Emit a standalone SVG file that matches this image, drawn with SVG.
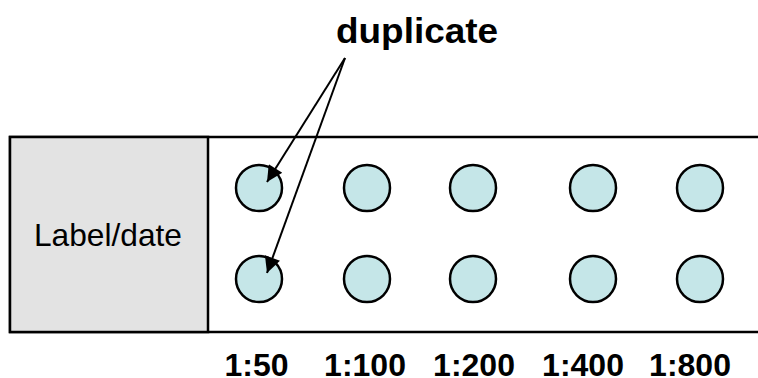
<svg xmlns="http://www.w3.org/2000/svg" width="758" height="378" viewBox="0 0 758 378">
<style>
.c{fill:#c5e6e8;stroke:#000;stroke-width:2.5}
.b{font-family:"Liberation Sans",Arial,sans-serif;font-weight:bold;fill:#000}
.s{font-size:32px}
.conn{stroke:#000;stroke-width:2;fill:none;marker-end:url(#ah)}
</style>
<defs>
<marker id="ah" viewBox="0 0 10 10" refX="10" refY="5" markerWidth="10" markerHeight="8" markerUnits="strokeWidth" orient="auto">
<path d="M0,0 L10,5 L0,10 z" fill="#000"/>
</marker>
</defs>
<rect width="758" height="378" fill="#fff"/>
<g id="strip"><rect x="10" y="137" width="760" height="195" fill="#fff" stroke="#000" stroke-width="2.5"/></g>
<g id="label-box"><rect x="10" y="137" width="198" height="195" fill="#e3e3e3" stroke="#000" stroke-width="2.5"/>
<text x="34" y="246" font-family="Liberation Sans,Arial,sans-serif" font-size="31.5" textLength="148" lengthAdjust="spacingAndGlyphs">Label/date</text></g>
<g id="title"><text class="b" x="336" y="43" font-size="35" textLength="162" lengthAdjust="spacingAndGlyphs">duplicate</text></g>
<g id="col1"><circle class="c" cx="259" cy="188" r="23"/><circle class="c" cx="259" cy="279" r="23"/><text class="b s" x="256.5" y="376" text-anchor="middle">1:50</text></g>
<g id="col2"><circle class="c" cx="367" cy="188" r="23"/><circle class="c" cx="367" cy="279" r="23"/><text class="b s" x="365" y="376" text-anchor="middle">1:100</text></g>
<g id="col3"><circle class="c" cx="473" cy="188" r="23"/><circle class="c" cx="473" cy="279" r="23"/><text class="b s" x="474" y="376" text-anchor="middle">1:200</text></g>
<g id="col4"><circle class="c" cx="593" cy="188" r="23"/><circle class="c" cx="593" cy="279" r="23"/><text class="b s" x="583" y="376" text-anchor="middle">1:400</text></g>
<g id="col5"><circle class="c" cx="700" cy="188" r="23"/><circle class="c" cx="700" cy="279" r="23"/><text class="b s" x="690" y="376" text-anchor="middle">1:800</text></g>
<g id="connectors">
<line class="conn" x1="345" y1="58" x2="267" y2="182"/>
<line class="conn" x1="345" y1="58" x2="267" y2="273"/>
</g>
</svg>
